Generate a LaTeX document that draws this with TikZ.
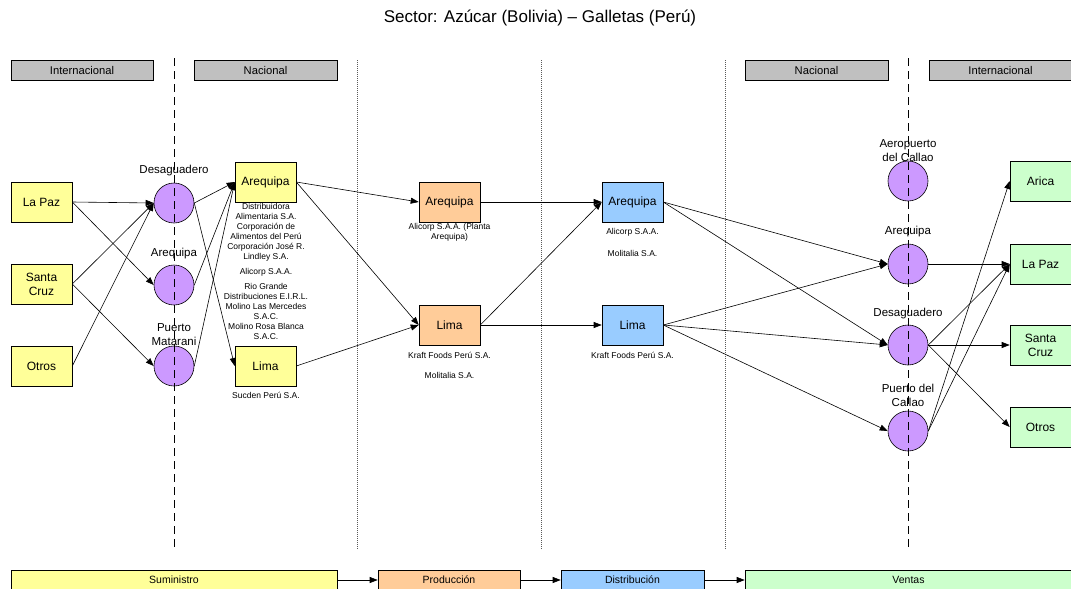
\documentclass[tikz,border=0pt]{standalone}
\usepackage{fontspec}
\setmainfont{Liberation Sans}
\usetikzlibrary{arrows.meta}
\definecolor{cyel}{HTML}{FFFF99}
\definecolor{cora}{HTML}{FFCC99}
\definecolor{cblu}{HTML}{99CCFF}
\definecolor{cgrn}{HTML}{CCFFCC}
\definecolor{cpur}{HTML}{CC99FF}
\definecolor{cgry}{HTML}{C0C0C0}
\begin{document}
\begin{tikzpicture}[x=1pt,y=-1pt,
  box/.style={draw, line width=0.6pt, minimum width=61pt, minimum height=40pt, inner sep=1pt, align=center, font=\fontsize{12}{14}\selectfont},
  hdr/.style={draw, line width=0.6pt, fill=cgry, minimum height=20pt, inner sep=0pt, font=\fontsize{11.2}{13}\selectfont},
  bar/.style={draw, line width=0.6pt, minimum height=20pt, inner sep=0pt, font=\fontsize{10.5}{12}\selectfont},
  port/.style={circle, draw, line width=0.6pt, fill=cpur, minimum size=40pt, inner sep=0pt},
  plabel/.style={align=center, inner sep=0pt, font=\fontsize{11.5}{14}\selectfont},
  small/.style={align=center, inner sep=0pt, font=\fontsize{8.5}{10}\selectfont},
  arr/.style={-{Triangle[length=8pt,width=6pt]}, line width=0.6pt},
  dashline/.style={line width=0.7pt, dash pattern=on 8pt off 5pt},
  dotline/.style={line width=0.6pt, gray!70!black, dash pattern=on 1pt off 1pt}]
\clip (0,0) rectangle (1071,589);
\useasboundingbox (0,0) rectangle (1071,589);

% title
\node[font=\fontsize{17}{20}\selectfont] (title) at (540,18) {Sector: Azúcar (Bolivia) – Galletas (Perú)};

% header boxes
\node[hdr, minimum width=142pt] (hi1) at (82,70) {Internacional};
\node[hdr, minimum width=143pt] (hn1) at (265.5,70) {Nacional};
\node[hdr, minimum width=143pt] (hn2) at (816.5,70) {Nacional};
\node[hdr, minimum width=143pt] (hi2) at (1000.5,70) {Internacional};

% dotted separators
\draw[dotline] (357,60) -- (357,550);
\draw[dotline] (541,60) -- (541,550);
\draw[dotline] (725,60) -- (725,550);

% left origin boxes
\node[box, fill=cyel] (lp) at (41.5,202) {La Paz};
\node[box, fill=cyel] (sc) at (41.5,284) {Santa\\Cruz};
\node[box, fill=cyel] (ot) at (41.5,366) {Otros};

% left ports
\node[port] (d1) at (174,203) {};
\node[port] (a1) at (174,285) {};
\node[port] (pm) at (174,366) {};
\node[plabel] (d1l) at (174,171) {Desaguadero};
\node[plabel] (a1l) at (174,254) {Arequipa};
\node[plabel] (pml) at (174,335) {Puerto\\Matarani};

% national supply
\node[box, fill=cyel] (na) at (265.5,182) {Arequipa};
\node[box, fill=cyel] (nl) at (265.5,366) {Lima};
\node[small, anchor=north] (nat) at (266,203) {Distribuidora\\Alimentaria S.A.\\Corporación de\\Alimentos del Perú\\Corporación José R.\\Lindley S.A.\\[5pt]Alicorp S.A.A.\\[5pt]Rio Grande\\Distribuciones E.I.R.L.\\Molino Las Mercedes\\S.A.C.\\Molino Rosa Blanca\\S.A.C.};
\node[small] (nlt) at (266,395) {Sucden Perú S.A.};

% production
\node[box, fill=cora] (pa) at (449.5,202) {Arequipa};
\node[box, fill=cora] (pl) at (449.5,325) {Lima};
\node[small] (pat) at (449.5,232) {Alicorp S.A.A. (Planta\\Arequipa)};
\node[small] (plt1) at (449.5,355) {Kraft Foods Perú S.A.};
\node[small] (plt2) at (449.5,375) {Molitalia S.A.};

% distribution
\node[box, fill=cblu] (da) at (632.5,202) {Arequipa};
\node[box, fill=cblu] (dl) at (632.5,325) {Lima};
\node[small] (dat1) at (632.5,232) {Alicorp S.A.A.};
\node[small] (dat2) at (632.5,253) {Molitalia S.A.};
\node[small] (dlt) at (632.5,355) {Kraft Foods Perú S.A.};

% right ports
\node[port] (ac) at (908,181) {};
\node[port] (ar) at (908,264) {};
\node[port] (de) at (908,345) {};
\node[port] (pc) at (908,431) {};
\node[plabel] (acl) at (908,151) {Aeropuerto\\del Callao};
\node[plabel] (arl) at (908,232) {Arequipa};
\node[plabel] (del) at (908,314) {Desaguadero};
\node[plabel] (pcl) at (908,395) {Puerto del\\Callao};

% destinations
\node[box, fill=cgrn] (gar) at (1040.5,181) {Arica};
\node[box, fill=cgrn] (glp) at (1040.5,264) {La Paz};
\node[box, fill=cgrn] (gsc) at (1040.5,345) {Santa\\Cruz};
\node[box, fill=cgrn] (got) at (1040.5,427) {Otros};

% dashed border lines (over circles)
\draw[dashline] (174,58) -- (174,550);
\draw[dashline] (908,58) -- (908,550);

% connectors
\draw[arr] (lp.east) -- (d1.west);
\draw[arr] (lp.east) -- (a1.west);
\draw[arr] (sc.east) -- (d1.west);
\draw[arr] (sc.east) -- (pm.west);
\draw[arr] (ot.east) -- (d1.west);

\draw[arr] (d1.east) -- (na.west);
\draw[arr] (a1.east) -- (na.west);
\draw[arr] (pm.east) -- (na.west);
\draw[arr] (d1.east) -- (nl.west);

\draw[arr] (na.east) -- (pa.west);
\draw[arr] (na.east) -- (pl.west);
\draw[arr] (nl.east) -- (pl.west);

\draw[arr] (pa.east) -- (da.west);
\draw[arr] (pl.east) -- (da.west);
\draw[arr] (pl.east) -- (dl.west);

\draw[arr] (da.east) -- (ar.west);
\draw[arr] (da.east) -- (de.west);
\draw[arr] (dl.east) -- (ar.west);
\draw[arr] (dl.east) -- (de.west);
\draw[arr] (dl.east) -- (pc.west);

\draw[arr] (ar.east) -- (glp.west);
\draw[arr] (de.east) -- (glp.west);
\draw[arr] (de.east) -- (gsc.west);
\draw[arr] (de.east) -- (got.west);
\draw[arr] (pc.east) -- (gar.west);
\draw[arr] (pc.east) -- (glp.west);

% bottom stage bar
\node[bar, fill=cyel, minimum width=326pt] (bs) at (174,580) {Suministro};
\node[bar, fill=cora, minimum width=142pt] (bp) at (449,580) {Producción};
\node[bar, fill=cblu, minimum width=143pt] (bd) at (632.5,580) {Distribución};
\node[bar, fill=cgrn, minimum width=327pt] (bv) at (908.5,580) {Ventas};
\draw[arr] (bs.east) -- (bp.west);
\draw[arr] (bp.east) -- (bd.west);
\draw[arr] (bd.east) -- (bv.west);
\end{tikzpicture}
\end{document}
